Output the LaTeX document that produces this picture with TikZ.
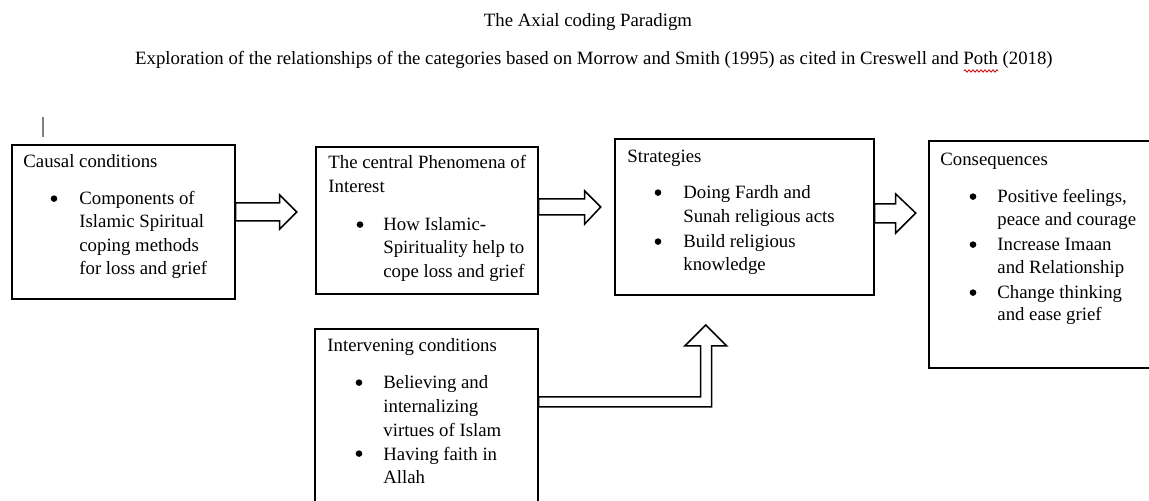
\documentclass[tikz,border=0pt]{standalone}
\usepackage{fontspec}
\setmainfont{Liberation Serif}
\usetikzlibrary{calc,decorations.pathmorphing}
\newcommand{\tnr}{\fontsize{9.39pt}{11.65pt}\selectfont}
\tikzset{
  boxnode/.style={draw, line width=0.85pt, inner sep=0pt, anchor=north west, fill=white},
  txt/.style={anchor=base west, inner sep=0pt, font=\tnr},
  bul/.style={circle, fill=black, inner sep=0pt, minimum size=3.3pt, yshift=3.2pt},
  blockarrow/.style={draw, line width=0.75pt, fill=white, line join=miter},
}
\begin{document}
\begin{tikzpicture}[x=0.5pt,y=-0.5pt]
\fill[white] (0,0) rectangle (1149,501);
\useasboundingbox (0,0) rectangle (1149,501);

% titles
\node[txt, anchor=base] (title) at (588,27) {The Axial coding Paradigm};
\node[txt, anchor=base east] (subtitle) at (1053,65) {Exploration of the relationships of the categories based on Morrow and Smith (1995) as cited in Creswell and Poth (2018)};
\coordinate (wavyA) at ($(subtitle.base east)+(-89,6)$);
\coordinate (wavyB) at ($(subtitle.base east)+(-55,6)$);
\draw[red!80!black, line width=0.4pt, decorate, decoration={zigzag, amplitude=0.6pt, segment length=2pt}] (wavyA) -- (wavyB);

% cursor
\coordinate (curA) at (43,117);
\coordinate (curB) at (43,137);
\draw[gray, line width=0.7pt] (curA) -- (curB);

% boxes
\node[boxnode, minimum width=111.5pt, minimum height=77pt] (causal) at (11,144) {};
\node[boxnode, minimum width=111pt, minimum height=73.5pt] (central) at (315,146) {};
\node[boxnode, minimum width=129.5pt, minimum height=78pt] (strat) at (614,138) {};
\node[boxnode, minimum width=115pt, minimum height=113.5pt] (cons) at (928,140) {};
\node[boxnode, minimum width=111.5pt, minimum height=90pt] (interv) at (314,328) {};

% causal text
\node[txt] (c-h) at (23,168) {Causal conditions};
\node[bul] (c-b1) at (54,205) {};
\node[txt] (c-1) at (79,205) {Components of};
\node[txt] (c-2) at (79,228) {Islamic Spiritual};
\node[txt] (c-3) at (79,252) {coping methods};
\node[txt] (c-4) at (79,275) {for loss and grief};

% central text
\node[txt] (p-h1) at (328,169) {The central Phenomena of};
\node[txt] (p-h2) at (328,193) {Interest};
\node[bul] (p-b1) at (360,231) {};
\node[txt] (p-1) at (383,231) {How Islamic-};
\node[txt] (p-2) at (383,254) {Spirituality help to};
\node[txt] (p-3) at (383,278) {cope loss and grief};

% strategies text
\node[txt] (s-h) at (627,163) {Strategies};
\node[bul] (s-b1) at (658,199) {};
\node[txt] (s-1) at (683,199) {Doing Fardh and};
\node[txt] (s-2) at (683,223) {Sunah religious acts};
\node[bul] (s-b2) at (658,248) {};
\node[txt] (s-3) at (683,248) {Build religious};
\node[txt] (s-4) at (683,271) {knowledge};

% consequences text
\node[txt] (q-h) at (940,166) {Consequences};
\node[bul] (q-b1) at (973,203) {};
\node[txt] (q-1) at (997,203) {Positive feelings,};
\node[txt] (q-2) at (997,226) {peace and courage};
\node[bul] (q-b2) at (973,251) {};
\node[txt] (q-3) at (997,251) {Increase Imaan};
\node[txt] (q-4) at (997,274) {and Relationship};
\node[bul] (q-b3) at (973,299) {};
\node[txt] (q-5) at (997,299) {Change thinking};
\node[txt] (q-6) at (997,321) {and ease grief};

% intervening text
\node[txt] (i-h) at (327,352) {Intervening conditions};
\node[bul] (i-b1) at (359,389) {};
\node[txt] (i-1) at (383,389) {Believing and};
\node[txt] (i-2) at (383,413) {internalizing};
\node[txt] (i-3) at (383,437) {virtues of Islam};
\node[bul] (i-b2) at (359,460) {};
\node[txt] (i-4) at (383,460) {Having faith in};
\node[txt] (i-5) at (383,483) {Allah};

% block arrows
\draw[blockarrow] ($(causal.north east)+(0,59)$) -- ++(44,0) -- ++(0,-8) -- ++(17,17) -- ++(-17,17) -- ++(0,-8) -- ++(-44,0) -- cycle;
\draw[blockarrow] ($(central.north east)+(0,53)$) -- ++(46,0) -- ++(0,-8) -- ++(16,16) -- ++(-16,17) -- ++(0,-9) -- ++(-46,0) -- cycle;
\draw[blockarrow] ($(strat.north east)+(0,66)$) -- ++(21,0) -- ++(0,-10) -- ++(20,19) -- ++(-20,20) -- ++(0,-10) -- ++(-21,0) -- cycle;
\draw[blockarrow] ($(interv.north east)+(0,69)$) -- ++(162,0) -- ++(0,-51) -- ++(-16,0) -- ++(21,-21) -- ++(21,21) -- ++(-15,0) -- ++(0,61) -- ++(-173,0) -- cycle;
\end{tikzpicture}
\end{document}
